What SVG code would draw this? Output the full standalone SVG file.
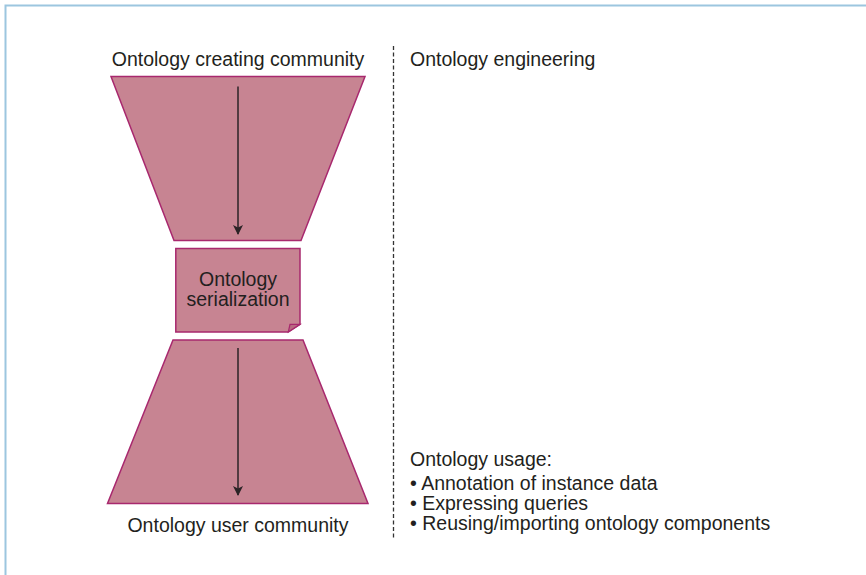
<svg xmlns="http://www.w3.org/2000/svg" width="866" height="575" viewBox="0 0 866 575">
  <style>
    .frame { stroke: #9cc6df; stroke-width: 2; fill: none; }
    .shape { fill: #c78492; stroke: #a8286e; stroke-width: 1.5; stroke-linejoin: miter; }
    .fold { fill: #b86a80; stroke: #a8286e; stroke-width: 1.2; }
    .flow { stroke: #2b2326; stroke-width: 1.5; fill: none; marker-end: url(#head); }
    .divider { stroke: #333333; stroke-width: 1.3; stroke-dasharray: 4 2.5; fill: none; }
    text { font-family: "Liberation Sans", Arial, sans-serif; font-size: 19.5px; fill: #231f20; }
    .mid { text-anchor: middle; }
  </style>
  <defs>
    <marker id="head" viewBox="0 0 10 10" refX="9" refY="5" markerWidth="10" markerHeight="10" markerUnits="userSpaceOnUse" orient="auto">
      <path d="M0,0 L10,5 L0,10 L2.5,5 Z" fill="#2b2326"/>
    </marker>
  </defs>

  <rect width="866" height="575" fill="#ffffff"/>
  <!-- page frame: top and left rules -->
  <path class="frame" d="M5.5,575 V5.5 H866"/>

  <g id="creating-community">
    <polygon class="shape" points="111,76.5 365,76.5 301,240.5 174,240.5"/>
    <text class="mid" x="238" y="66">Ontology creating community</text>
  </g>

  <g id="serialization">
    <path class="shape" d="M175.8,248.5 H300 V324.3 L288.3,332 H175.8 Z"/>
    <path class="fold" d="M288.3,332 L290,324.3 L300,324.3 Z"/>
    <text class="mid" x="238" y="286">Ontology</text>
    <text class="mid" x="238" y="306">serialization</text>
  </g>

  <g id="user-community">
    <polygon class="shape" points="173,340 303,340 368,503.5 107.5,503.5"/>
    <text class="mid" x="238" y="532">Ontology user community</text>
  </g>

  <g id="engineering">
    <text x="410" y="66">Ontology engineering</text>
  </g>

  <g id="usage">
    <text x="410" y="465.5">Ontology usage:</text>
    <text x="410" y="490">• Annotation of instance data</text>
    <text x="410" y="510">• Expressing queries</text>
    <text x="410" y="530">• Reusing/importing ontology components</text>
  </g>

  <g id="connectors">
    <line class="flow" x1="238" y1="86.5" x2="238" y2="234"/>
    <line class="flow" x1="238" y1="348" x2="238" y2="495"/>
    <line class="divider" x1="393.5" y1="46" x2="393.5" y2="538"/>
  </g>
</svg>
